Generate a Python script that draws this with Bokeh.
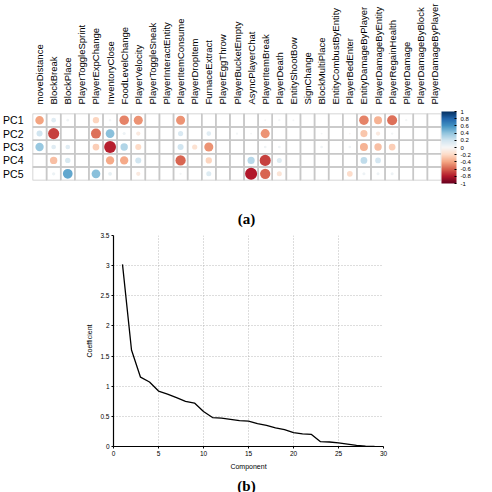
import numpy as np
from bokeh.plotting import figure
from bokeh.models import (ColumnDataSource, FactorRange, LinearColorMapper, ColorBar,
                          FixedTicker, Label, Range1d, AllLabels)
from bokeh.transform import transform
from bokeh.embed import file_html
from bokeh.resources import INLINE

# ---------------- data ----------------
features = ["moveDistance", "BlockBreak", "BlockPlace", "PlayerToggleSprint", "PlayerExpChange",
            "InventoryClose", "FoodLevelChange", "PlayerVelocity", "PlayerToggleSneak",
            "PlayerInteractEntity", "PlayerItemConsume", "PlayerDropItem", "FurnaceExtract",
            "PlayerEggThrow", "PlayerBucketEmpty", "AsyncPlayerChat", "PlayerItemBreak",
            "PlayerDeath", "EntityShootBow", "SignChange", "BlockMultiPlace",
            "EntityCombustByEntity", "PlayerBedEnter", "EntityDamageByPlayer",
            "PlayerDamageByEntity", "PlayerRegainHealth", "PlayerDamage",
            "PlayerDamageByBlock", "PlayerDamageByPlayer"]
components = ["PC1", "PC2", "PC3", "PC4", "PC5"]

pc1 = [-0.40, 0.12, 0.04, 0.0, -0.22, 0.03, -0.50, -0.45, 0.0, 0.0, -0.45, 0.0, 0.0, 0.0, 0.0,
       0.0, 0.02, 0.03, 0.02, 0.0, 0.0, 0.0, 0.0, -0.50, -0.35, -0.55, 0.03, 0.0, 0.0]
pc2 = [0.20, -0.68, 0.0, 0.0, -0.55, 0.42, 0.05, -0.10, 0.0, 0.0, 0.15, 0.0, 0.12, 0.0, 0.03,
       0.02, -0.45, 0.0, 0.0, 0.0, 0.02, 0.0, -0.02, -0.28, -0.10, 0.03, 0.0, 0.0, 0.0]
pc3 = [0.38, 0.12, 0.12, 0.0, -0.25, -0.78, 0.30, -0.20, 0.0, 0.0, 0.20, -0.15, -0.45, 0.0, 0.0,
       0.0, 0.04, 0.04, 0.0, 0.0, 0.04, 0.0, 0.04, -0.35, -0.30, -0.25, 0.0, 0.0, 0.0]
pc4 = [0.0, -0.30, 0.16, 0.0, 0.0, -0.38, -0.38, 0.20, 0.0, 0.0, -0.58, 0.0, -0.22, 0.0, 0.0,
       0.28, -0.68, 0.14, 0.0, 0.0, 0.0, 0.0, 0.0, 0.25, 0.18, 0.0, 0.0, 0.0, 0.0]
pc5 = [0.0, 0.06, 0.52, 0.0, 0.42, 0.08, 0.0, -0.10, 0.0, 0.0, 0.03, 0.0, 0.14, 0.0, 0.0,
       -0.80, -0.58, -0.14, 0.0, 0.0, 0.0, 0.0, -0.18, 0.05, 0.05, 0.05, 0.0, 0.0, 0.0]

cbar_ticks = [-1, -0.8, -0.6, -0.4, -0.2, 0, 0.2, 0.4, 0.6, 0.8, 1]
cbar_labels = ["-1", "-0.8", "-0.6", "-0.4", "-0.2", "0", "0.2", "0.4", "0.6", "0.8", "1"]

component_idx = list(range(1, 30))
coefficient = [3.02, 1.60, 1.15, 1.07, 0.92, 0.87, 0.81, 0.75, 0.72, 0.58, 0.48, 0.47, 0.45,
               0.43, 0.42, 0.38, 0.35, 0.31, 0.28, 0.23, 0.21, 0.20, 0.08, 0.075, 0.06, 0.04,
               0.02, 0.005, 0.0]
x_ticks = [0, 5, 10, 15, 20, 25, 30]
y_ticks = [0, 0.5, 1, 1.5, 2, 2.5, 3, 3.5]

# ---------------- panel (a) ----------------
rdbu = ["#67001f", "#b2182b", "#d6604d", "#f4a582", "#fddbc7", "#f7f7f7",
        "#d1e5f0", "#92c5de", "#4393c3", "#2166ac", "#053061"]
def _hex2rgb(h):
    return [int(h[i:i + 2], 16) for i in (1, 3, 5)]
anchors = np.array([_hex2rgb(c) for c in rdbu], dtype=float)
pos = np.linspace(0, 1, len(rdbu))
t = np.linspace(0, 1, 256)
palette = ["#%02x%02x%02x" % tuple(int(round(np.interp(tt, pos, anchors[:, k]))) for k in range(3))
           for tt in t]
mapper = LinearColorMapper(palette=palette, low=-1, high=1)

xs, ys, vals = [], [], []
for comp, row in zip(components, [pc1, pc2, pc3, pc4, pc5]):
    for f, v in zip(features, row):
        xs.append(f)
        ys.append(comp)
        vals.append(v)
vals_arr = np.array(vals)
src = ColumnDataSource(dict(x=xs, y=ys, v=vals, s=list(13.5 * np.sqrt(np.abs(vals_arr)))))

pa = figure(width=492, height=200, output_backend="svg", toolbar_location=None,
            x_range=FactorRange(factors=features, range_padding=0),
            y_range=FactorRange(factors=components[::-1], range_padding=0),
            x_axis_location="above",
            min_border_left=28, min_border_right=51, min_border_top=110, min_border_bottom=20)
pa.outline_line_color = None
pa.grid.visible = False
pa.rect(x="x", y="y", width=1, height=1, source=src, fill_color=None,
        line_color="#c8c8c8", line_width=1.5)
pa.scatter(x="x", y="y", size="s", source=src, line_color=None,
           fill_color=transform("v", mapper))

for ax in (pa.xaxis[0], pa.yaxis[0]):
    ax.axis_line_color = None
    ax.major_tick_line_color = None
    ax.minor_tick_line_color = None
    ax.major_label_text_font = "Liberation Sans"
    ax.major_label_text_color = "black"
pa.xaxis.major_label_orientation = np.pi / 2
pa.xaxis.major_label_text_font_size = "9.5px"
pa.xaxis.major_label_standoff = 3
pa.yaxis.major_label_text_font_size = "10.5px"
pa.yaxis.major_label_standoff = 3

cb = ColorBar(color_mapper=mapper, width=15, height=72, location="center_left",
              ticker=FixedTicker(ticks=cbar_ticks),
              major_label_overrides={tk: lb for tk, lb in zip(cbar_ticks, cbar_labels)},
              major_label_policy=AllLabels(),
              major_label_text_font_size="6px", major_label_text_font="Liberation Sans",
              major_label_text_color="black",
              major_tick_line_color="black", major_tick_in=2, major_tick_out=0,
              label_standoff=4, margin=8, padding=0, bar_line_color=None)
pa.add_layout(cb, "right")


def caption_fig(text, height, y_center):
    c = figure(width=492, height=height, output_backend="svg", toolbar_location=None,
               x_range=Range1d(0, 492), y_range=Range1d(0, height),
               x_axis_location=None, y_axis_location=None,
               min_border=0, min_border_left=0, min_border_right=0,
               min_border_top=0, min_border_bottom=0)
    c.outline_line_color = None
    c.grid.visible = False
    c.add_layout(Label(x=246, y=y_center, x_units="screen", y_units="screen", text=text,
                       text_align="center", text_baseline="middle",
                       text_font="Liberation Serif", text_font_style="bold",
                       text_font_size="15px", text_color="black"))
    return c


cap_a = caption_fig("(a)", 32, 14)

# ---------------- panel (b) ----------------
pb = figure(width=492, height=240, output_backend="svg", toolbar_location=None,
            x_range=Range1d(0, 30), y_range=Range1d(0, 3.5),
            min_border_left=113, min_border_right=109, min_border_top=3, min_border_bottom=24)
pb.line(component_idx, coefficient, line_color="black", line_width=1.3)
pb.outline_line_color = None
pb.xaxis.ticker = FixedTicker(ticks=x_ticks)
pb.yaxis.ticker = FixedTicker(ticks=y_ticks)
for ax in (pb.xaxis[0], pb.yaxis[0]):
    ax.major_tick_in = 0
    ax.major_tick_out = 2
    ax.major_tick_line_color = "black"
    ax.minor_tick_line_color = None
    ax.axis_line_color = "black"
    ax.axis_line_width = 1.2
    ax.major_label_text_font_size = "6.5px"
    ax.major_label_text_font = "Liberation Sans"
    ax.major_label_text_color = "black"
    ax.axis_label_text_font_size = "7px"
    ax.axis_label_text_font = "Liberation Sans"
    ax.axis_label_text_font_style = "normal"
    ax.axis_label_text_color = "black"
    ax.major_label_standoff = 2
    ax.axis_label_standoff = 4
pb.xaxis.axis_label = "Component"
pb.yaxis.axis_label = "Coefficient"
pb.grid.grid_line_color = "#aaaaaa"
pb.grid.grid_line_dash = "1 2"
pb.grid.grid_line_width = 0.8

cap_b = caption_fig("(b)", 20, 7)

open("out.html", "w").write(file_html([pa, cap_a, pb, cap_b], INLINE))
